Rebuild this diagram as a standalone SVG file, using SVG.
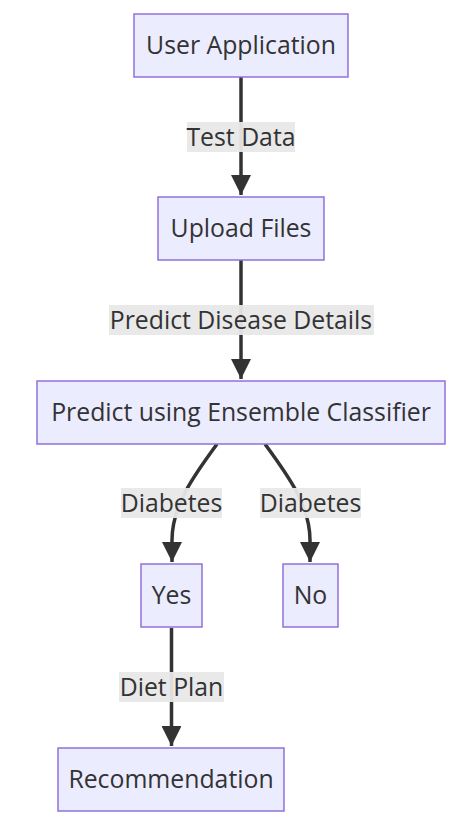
<svg xmlns="http://www.w3.org/2000/svg" width="459" height="817" viewBox="0 0 459 817">
<style>
.node rect{fill:#ECECFF;stroke:#9370DB;stroke-width:1.5}
.node text,.lbl text{font-family:"Open Sans","Liberation Sans",sans-serif;font-size:24.8px;fill:#333;text-anchor:middle}
.edge{fill:none;stroke:#333;stroke-width:3.5}
.lbl rect{fill:#e8e8e8;opacity:0.95}
</style>
<defs>
<marker id="arr" viewBox="0 0 10 10" refX="10" refY="5" markerWidth="5.7" markerHeight="5.7" markerUnits="strokeWidth" orient="auto">
<path d="M0,0 L10,5 L0,10 z" fill="#333"/>
</marker>
</defs>
<rect width="459" height="817" fill="#fff"/>
<g id="connectors">
<path class="edge" d="M241,77 L241,195" marker-end="url(#arr)"/>
<path class="edge" d="M241,260 L241,379" marker-end="url(#arr)"/>
<path class="edge" d="M217,444 C195,474 172,505 172,540 L172,562" marker-end="url(#arr)"/>
<path class="edge" d="M265,444 C287,474 310,505 310,540 L310,562" marker-end="url(#arr)"/>
<path class="edge" d="M171.5,628 L171.5,746" marker-end="url(#arr)"/>
</g>
<g id="labels">
<g class="lbl"><rect x="187" y="122" width="108" height="30"/><text x="241" y="145.5">Test Data</text></g>
<g class="lbl"><rect x="109" y="305" width="265" height="30"/><text x="241" y="328.5">Predict Disease Details</text></g>
<g class="lbl"><rect x="121" y="488" width="101" height="30"/><text x="171.5" y="511.5">Diabetes</text></g>
<g class="lbl"><rect x="260" y="488" width="101" height="30"/><text x="310.5" y="511.5">Diabetes</text></g>
<g class="lbl"><rect x="119" y="672" width="105" height="30"/><text x="171.5" y="695.5">Diet Plan</text></g>
</g>
<g id="n-user" class="node"><rect x="134" y="14" width="214" height="63"/><text x="241" y="54">User Application</text></g>
<g id="n-upload" class="node"><rect x="158" y="197" width="166" height="63"/><text x="241" y="237">Upload Files</text></g>
<g id="n-predict" class="node"><rect x="37" y="381" width="408" height="63"/><text x="241" y="421">Predict using Ensemble Classifier</text></g>
<g id="n-yes" class="node"><rect x="141" y="564" width="61" height="63"/><text x="171.5" y="604">Yes</text></g>
<g id="n-no" class="node"><rect x="283" y="564" width="55" height="63"/><text x="310.5" y="604">No</text></g>
<g id="n-rec" class="node"><rect x="58" y="748" width="226" height="63"/><text x="171" y="788">Recommendation</text></g>
</svg>
